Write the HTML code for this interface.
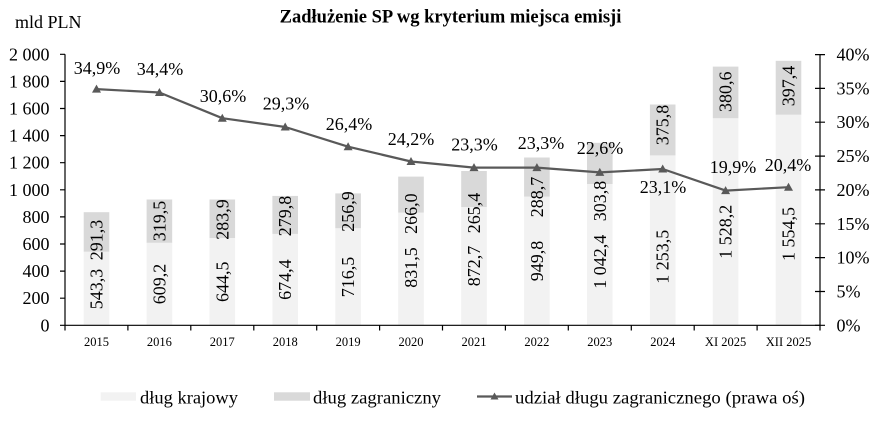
<!DOCTYPE html>
<html><head><meta charset="utf-8"><style>
html,body{margin:0;padding:0;background:#fff;}
svg{display:block;}
text{font-family:"Liberation Serif","Times New Roman",serif;fill:#000;}
</style></head><body>
<svg width="891" height="432" viewBox="0 0 891 432" xmlns="http://www.w3.org/2000/svg">
<rect width="891" height="432" fill="#fff"/>
<text x="450.5" y="22.7" font-size="18.5" font-weight="bold" text-anchor="middle">Zadłużenie SP wg kryterium miejsca emisji</text>
<text x="15" y="28" font-size="18">mld PLN</text>

<!-- bars -->
<g>
<rect x="83.7" y="251.7" width="25.6" height="73.6" fill="#f2f2f2"/><rect x="83.7" y="212.2" width="25.6" height="39.5" fill="#d9d9d9"/>
<rect x="146.6" y="242.8" width="25.6" height="82.5" fill="#f2f2f2"/><rect x="146.6" y="199.5" width="25.6" height="43.3" fill="#d9d9d9"/>
<rect x="209.5" y="238.0" width="25.6" height="87.3" fill="#f2f2f2"/><rect x="209.5" y="199.5" width="25.6" height="38.5" fill="#d9d9d9"/>
<rect x="272.4" y="233.9" width="25.6" height="91.4" fill="#f2f2f2"/><rect x="272.4" y="195.9" width="25.6" height="38.0" fill="#d9d9d9"/>
<rect x="335.3" y="228.2" width="25.6" height="97.1" fill="#f2f2f2"/><rect x="335.3" y="193.4" width="25.6" height="34.8" fill="#d9d9d9"/>
<rect x="398.2" y="212.6" width="25.6" height="112.7" fill="#f2f2f2"/><rect x="398.2" y="176.6" width="25.6" height="36.0" fill="#d9d9d9"/>
<rect x="461.2" y="207.0" width="25.6" height="118.3" fill="#f2f2f2"/><rect x="461.2" y="171.0" width="25.6" height="36.0" fill="#d9d9d9"/>
<rect x="524.1" y="196.6" width="25.6" height="128.7" fill="#f2f2f2"/><rect x="524.1" y="157.5" width="25.6" height="39.1" fill="#d9d9d9"/>
<rect x="587.0" y="184.0" width="25.6" height="141.3" fill="#f2f2f2"/><rect x="587.0" y="142.8" width="25.6" height="41.2" fill="#d9d9d9"/>
<rect x="649.9" y="155.4" width="25.6" height="169.9" fill="#f2f2f2"/><rect x="649.9" y="104.5" width="25.6" height="50.9" fill="#d9d9d9"/>
<rect x="712.8" y="118.2" width="25.6" height="207.1" fill="#f2f2f2"/><rect x="712.8" y="66.6" width="25.6" height="51.6" fill="#d9d9d9"/>
<rect x="775.7" y="114.7" width="25.6" height="210.6" fill="#f2f2f2"/><rect x="775.7" y="60.8" width="25.6" height="53.9" fill="#d9d9d9"/>
</g>

<!-- axes -->
<g stroke="#000" stroke-width="1.2" fill="none">
<line x1="65" y1="54.3" x2="65" y2="325.3"/>
<line x1="820" y1="54.6" x2="820" y2="325.3"/>
<line x1="65" y1="325.3" x2="820" y2="325.3"/>
<path d="M60 325.3H65M60 298.2H65M60 271.1H65M60 244H65M60 216.9H65M60 189.8H65M60 162.7H65M60 135.6H65M60 108.5H65M60 81.4H65M60 54.3H65"/>
<path d="M815 325.3H825M815 291.5H825M815 257.6H825M815 223.8H825M815 189.9H825M815 156.1H825M815 122.2H825M815 88.4H825M815 54.6H825"/>
<path d="M65 325.3V330.5M127.9 325.3V330.5M190.8 325.3V330.5M253.8 325.3V330.5M316.7 325.3V330.5M379.6 325.3V330.5M442.5 325.3V330.5M505.4 325.3V330.5M568.3 325.3V330.5M631.3 325.3V330.5M694.2 325.3V330.5M757.1 325.3V330.5M820 325.3V330.5"/>
</g>

<!-- left axis labels -->
<g font-size="18" text-anchor="end">
<text x="49.5" y="331.3">0</text>
<text x="49.5" y="304.2">200</text>
<text x="49.5" y="277.1">400</text>
<text x="49.5" y="250">600</text>
<text x="49.5" y="222.9">800</text>
<text x="49.5" y="195.8">1 000</text>
<text x="49.5" y="168.7">1 200</text>
<text x="49.5" y="141.6">1 400</text>
<text x="49.5" y="114.5">1 600</text>
<text x="49.5" y="87.4">1 800</text>
<text x="49.5" y="60.3">2 000</text>
</g>
<!-- right axis labels -->
<g font-size="18">
<text x="836.5" y="331.3">0%</text>
<text x="836.5" y="297.5">5%</text>
<text x="836.5" y="263.6">10%</text>
<text x="836.5" y="229.8">15%</text>
<text x="836.5" y="195.9">20%</text>
<text x="836.5" y="162.1">25%</text>
<text x="836.5" y="128.2">30%</text>
<text x="836.5" y="94.4">35%</text>
<text x="836.5" y="60.6">40%</text>
</g>
<!-- category labels -->
<g font-size="12.5" text-anchor="middle">
<text x="96.5" y="346">2015</text>
<text x="159.4" y="346">2016</text>
<text x="222.3" y="346">2017</text>
<text x="285.2" y="346">2018</text>
<text x="348.1" y="346">2019</text>
<text x="411" y="346">2020</text>
<text x="474" y="346">2021</text>
<text x="536.9" y="346">2022</text>
<text x="599.8" y="346">2023</text>
<text x="662.7" y="346">2024</text>
<text x="725.6" y="346">XI 2025</text>
<text x="788.5" y="346">XII 2025</text>
</g>

<!-- rotated value labels -->
<g font-size="18" text-anchor="middle">
<text transform="translate(102.5,289) rotate(-90)">543,3</text>
<text transform="translate(102.5,240) rotate(-90)">291,3</text>
<text transform="translate(165.4,284) rotate(-90)">609,2</text>
<text transform="translate(165.4,221) rotate(-90)">319,5</text>
<text transform="translate(228.3,281.7) rotate(-90)">644,5</text>
<text transform="translate(228.3,219.5) rotate(-90)">283,9</text>
<text transform="translate(291.2,279.6) rotate(-90)">674,4</text>
<text transform="translate(291.2,216) rotate(-90)">279,8</text>
<text transform="translate(354.1,277) rotate(-90)">716,5</text>
<text transform="translate(354.1,211.5) rotate(-90)">256,9</text>
<text transform="translate(417,267.5) rotate(-90)">831,5</text>
<text transform="translate(417,213.6) rotate(-90)">266,0</text>
<text transform="translate(480,266) rotate(-90)">872,7</text>
<text transform="translate(480,213) rotate(-90)">265,4</text>
<text transform="translate(542.9,261) rotate(-90)">949,8</text>
<text transform="translate(542.9,197) rotate(-90)">288,7</text>
<text transform="translate(605.8,261.7) rotate(-90)">1 042,4</text>
<text transform="translate(605.8,201) rotate(-90)">303,8</text>
<text transform="translate(668.7,256.7) rotate(-90)">1 253,5</text>
<text transform="translate(668.7,125) rotate(-90)">375,8</text>
<text transform="translate(731.6,231.7) rotate(-90)">1 528,2</text>
<text transform="translate(731.6,91.7) rotate(-90)">380,6</text>
<text transform="translate(794.5,234) rotate(-90)">1 554,5</text>
<text transform="translate(794.5,86) rotate(-90)">397,4</text>
</g>

<!-- line -->
<polyline fill="none" stroke="#595959" stroke-width="2.2" stroke-linejoin="round"
points="96.5,89.1 159.4,92.5 222.3,118.2 285.2,127.0 348.1,146.7 411,161.5 474,167.6 536.9,167.6 599.8,172.4 662.7,169.0 725.6,190.6 788.5,187.2"/>
<g fill="#595959">
<path d="M96.5 84.6L101 92.6L92 92.6Z"/>
<path d="M159.4 88L163.9 96L154.9 96Z"/>
<path d="M222.3 113.7L226.8 121.7L217.8 121.7Z"/>
<path d="M285.2 122.5L289.7 130.5L280.7 130.5Z"/>
<path d="M348.1 142.2L352.6 150.2L343.6 150.2Z"/>
<path d="M411 157L415.5 165L406.5 165Z"/>
<path d="M474 163.1L478.5 171.1L469.5 171.1Z"/>
<path d="M536.9 163.1L541.4 171.1L532.4 171.1Z"/>
<path d="M599.8 167.9L604.3 175.9L595.3 175.9Z"/>
<path d="M662.7 164.5L667.2 172.5L658.2 172.5Z"/>
<path d="M725.6 186.1L730.1 194.1L721.1 194.1Z"/>
<path d="M788.5 182.7L793 190.7L784 190.7Z"/>
</g>

<!-- percent labels -->
<g font-size="18" text-anchor="middle">
<text x="97" y="74">34,9%</text>
<text x="160" y="75">34,4%</text>
<text x="223" y="102">30,6%</text>
<text x="286" y="109.5">29,3%</text>
<text x="349" y="130">26,4%</text>
<text x="411" y="145">24,2%</text>
<text x="474.5" y="150.5">23,3%</text>
<text x="541" y="149">23,3%</text>
<text x="600" y="154">22,6%</text>
<text x="663" y="193">23,1%</text>
<text x="733" y="173">19,9%</text>
<text x="788" y="171">20,4%</text>
</g>

<!-- legend -->
<rect x="100.7" y="392.3" width="35.3" height="8.4" fill="#f2f2f2"/>
<text x="140" y="403.3" font-size="18" textLength="98" lengthAdjust="spacingAndGlyphs">dług krajowy</text>
<rect x="274" y="392.3" width="36" height="8.4" fill="#d9d9d9"/>
<text x="313" y="403.3" font-size="18" textLength="128" lengthAdjust="spacingAndGlyphs">dług zagraniczny</text>
<line x1="477" y1="396.5" x2="512" y2="396.5" stroke="#595959" stroke-width="2.2"/>
<path d="M494.5 392.5L498.5 399.5L490.5 399.5Z" fill="#595959"/>
<text x="515" y="403.3" font-size="18" textLength="290" lengthAdjust="spacingAndGlyphs">udział długu zagranicznego (prawa oś)</text>
</svg>
</body></html>
